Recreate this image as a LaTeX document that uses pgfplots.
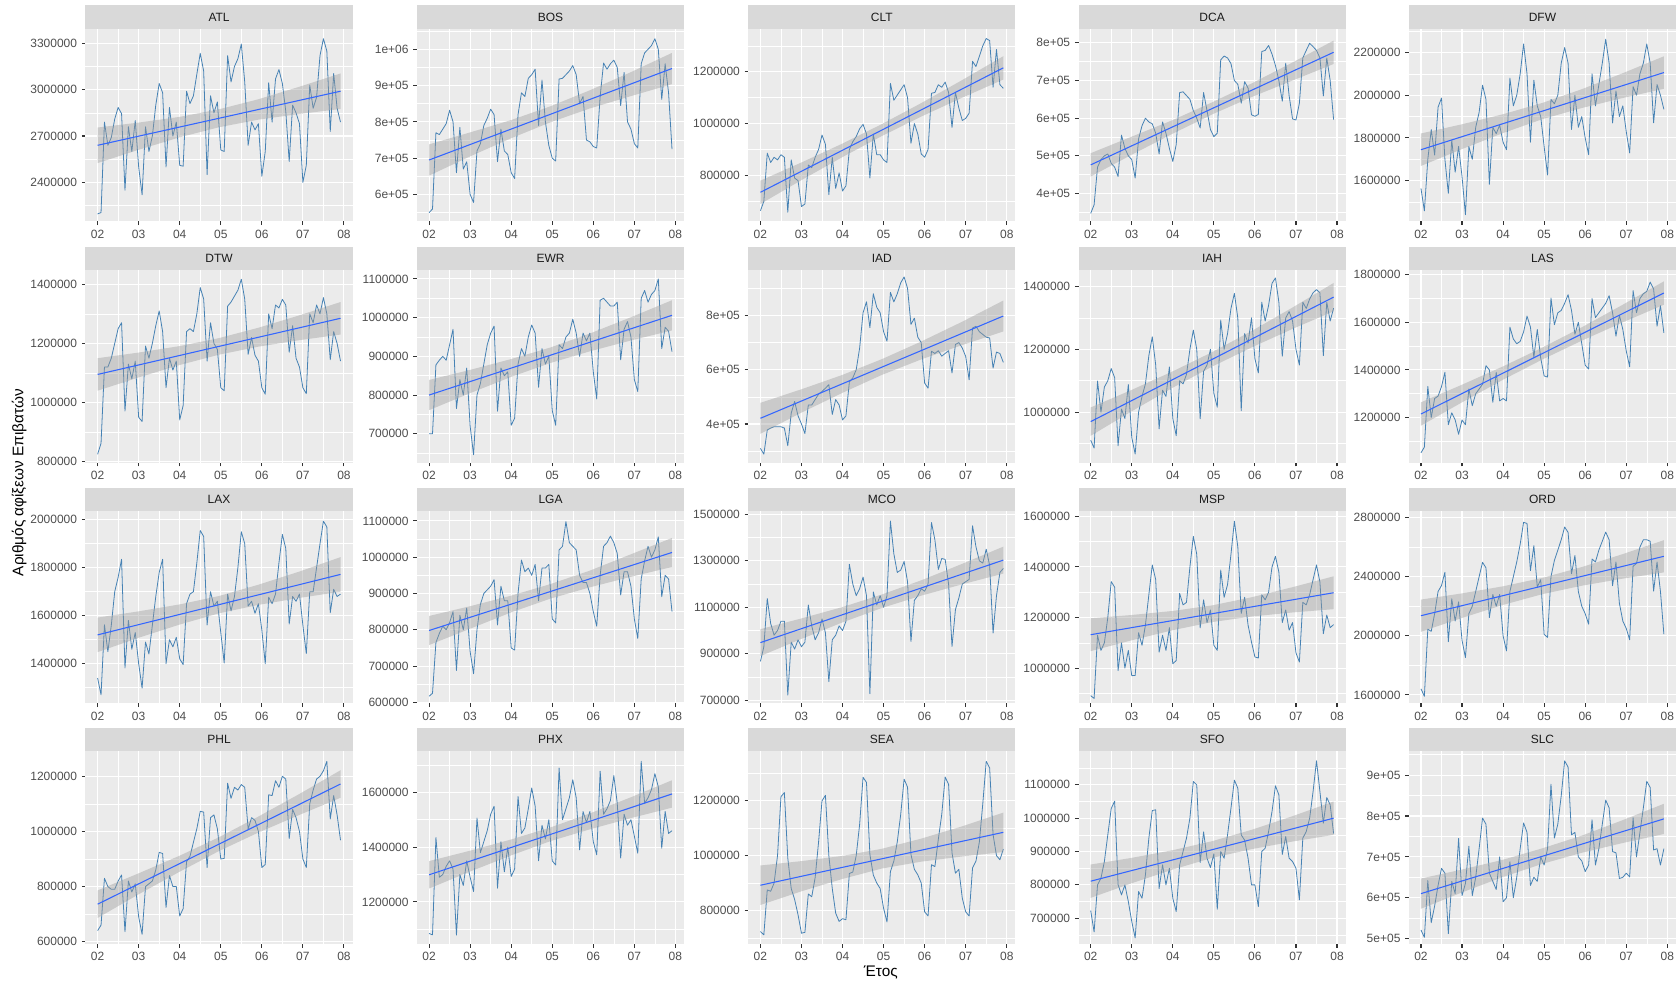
\documentclass[border=0pt]{standalone}
\usepackage{pgfplots}
\pgfplotsset{compat=1.18}
\usepackage{pgfplotstable}
\usepackage{fontspec}
\setmainfont{Liberation Sans}
\definecolor{panelbg}{HTML}{EBEBEB}
\definecolor{stripbg}{HTML}{D9D9D9}
\definecolor{stripc}{HTML}{1A1A1A}
\definecolor{ticklab}{HTML}{4D4D4D}
\definecolor{tickcol}{HTML}{333333}
\definecolor{serc}{HTML}{4682B4}
\definecolor{trendc}{HTML}{3366FF}
\definecolor{bandc}{HTML}{999999}

% monthly values, thousands of passengers, Jan 2002 ... Dec 2007
\pgfplotstableread[row sep=\\]{v\\
2196\\2205\\2790\\2640\\2690\\2810\\2885\\2845\\2350\\2760\\2600\\2800\\
2500\\2320\\2760\\2600\\2700\\2900\\3040\\2980\\2500\\2885\\2700\\2790\\
2510\\2505\\2990\\2910\\2960\\3100\\3235\\3120\\2450\\2960\\2850\\2920\\
2610\\2600\\3220\\3050\\3150\\3200\\3295\\3050\\2640\\2790\\2740\\2780\\
2440\\2600\\3045\\2790\\3070\\3130\\3040\\2860\\2535\\2900\\2850\\2780\\
2400\\2510\\3030\\2880\\2950\\3220\\3330\\3250\\2730\\3105\\2880\\2790\\
}\dATL
\pgfplotstableread[row sep=\\]{v\\
550\\560\\770\\765\\780\\795\\832\\800\\660\\785\\670\\690\\
600\\578\\720\\740\\790\\810\\835\\820\\690\\780\\720\\710\\
660\\644\\820\\880\\870\\920\\930\\945\\790\\915\\800\\735\\
700\\692\\918\\920\\930\\940\\955\\930\\850\\870\\750\\745\\
732\\728\\870\\962\\945\\960\\970\\950\\845\\936\\800\\780\\
740\\728\\960\\990\\1000\\1010\\1029\\1000\\862\\960\\880\\725\\
}\dBOS
\pgfplotstableread[row sep=\\]{v\\
664\\700\\886\\850\\870\\860\\880\\870\\658\\860\\790\\780\\
680\\690\\840\\830\\870\\900\\956\\920\\726\\870\\750\\810\\
740\\760\\900\\930\\950\\980\\997\\960\\790\\960\\880\\880\\
860\\850\\1155\\1090\\1110\\1130\\1150\\1100\\924\\1000\\960\\883\\
870\\900\\1117\\1120\\1150\\1140\\1160\\1120\\985\\1120\\1060\\1012\\
1020\\1040\\1240\\1220\\1260\\1300\\1328\\1320\\1140\\1286\\1150\\1136\\
}\dCLT
\pgfplotstableread[row sep=\\]{v\\
347\\370\\470\\490\\500\\505\\480\\470\\445\\555\\520\\500\\
490\\441\\545\\580\\600\\590\\585\\560\\505\\590\\560\\520\\
485\\530\\668\\670\\660\\650\\620\\600\\574\\668\\620\\570\\
551\\560\\755\\765\\760\\745\\700\\690\\640\\697\\680\\609\\
605\\610\\777\\780\\793\\770\\740\\700\\645\\746\\660\\598\\
595\\640\\760\\780\\799\\790\\780\\760\\659\\760\\700\\596\\
}\dDCA
\pgfplotstableread[row sep=\\]{v\\
1564\\1459\\1700\\1839\\1720\\1944\\1987\\1700\\1541\\1790\\1640\\1760\\
1620\\1441\\1760\\1700\\1850\\1920\\2047\\1980\\1583\\1850\\1820\\1860\\
1780\\1745\\2080\\1950\\2000\\2100\\2240\\2100\\1780\\2070\\1950\\1900\\
1760\\1627\\1980\\1960\\2000\\2150\\2223\\2150\\1840\\2000\\1850\\1900\\
1800\\1722\\2100\\1950\\2050\\2150\\2262\\2150\\1870\\2020\\1900\\1950\\
1830\\1730\\2040\\2000\\2100\\2150\\2240\\2150\\1871\\2050\\2000\\1934\\
}\dDFW
\pgfplotstableread[row sep=\\]{v\\
825\\862\\1120\\1120\\1150\\1200\\1250\\1270\\971\\1130\\1080\\1140\\
950\\936\\1191\\1150\\1200\\1260\\1310\\1240\\1050\\1150\\1110\\1140\\
941\\990\\1240\\1250\\1240\\1300\\1389\\1350\\1140\\1270\\1200\\1180\\
1050\\1040\\1326\\1340\\1360\\1380\\1417\\1350\\1163\\1220\\1160\\1140\\
1050\\1028\\1300\\1250\\1330\\1320\\1349\\1330\\1170\\1260\\1150\\1120\\
1050\\1030\\1300\\1270\\1330\\1300\\1355\\1300\\1145\\1240\\1200\\1140\\
}\dDTW
\pgfplotstableread[row sep=\\]{v\\
700\\700\\878\\890\\900\\890\\930\\970\\765\\840\\800\\870\\
720\\646\\800\\830\\880\\930\\960\\978\\758\\870\\850\\860\\
722\\740\\880\\920\\900\\950\\981\\960\\820\\920\\880\\900\\
760\\722\\930\\920\\950\\960\\996\\960\\900\\960\\940\\960\\
860\\790\\1045\\1050\\1040\\1030\\1030\\1040\\891\\970\\990\\950\\
840\\809\\1050\\1070\\1040\\1060\\1070\\1100\\920\\975\\965\\912\\
}\dEWR
\pgfplotstableread[row sep=\\]{v\\
310\\289\\378\\385\\390\\390\\390\\385\\320\\440\\483\\430\\
400\\365\\470\\470\\490\\510\\520\\532\\545\\435\\490\\470\\
415\\430\\555\\570\\600\\680\\810\\850\\755\\880\\830\\810\\
740\\705\\885\\850\\880\\920\\942\\900\\767\\790\\720\\700\\
551\\532\\668\\660\\670\\650\\660\\670\\588\\693\\700\\680\\
649\\563\\754\\760\\740\\730\\720\\717\\606\\665\\660\\627\\
}\dIAD
\pgfplotstableread[row sep=\\]{v\\
911\\886\\1099\\1000\\1080\\1100\\1139\\1110\\893\\1010\\980\\1088\\
920\\867\\1000\\1050\\1090\\1180\\1240\\1150\\947\\1070\\1050\\1144\\
980\\925\\1100\\1090\\1120\\1200\\1261\\1200\\979\\1130\\1150\\1200\\
1060\\1016\\1293\\1200\\1250\\1330\\1378\\1300\\1005\\1250\\1220\\1300\\
1170\\1125\\1350\\1290\\1340\\1410\\1427\\1350\\1178\\1300\\1320\\1290\\
1200\\1150\\1350\\1330\\1360\\1380\\1390\\1380\\1180\\1350\\1290\\1331\\
}\dIAH
\pgfplotstableread[row sep=\\]{v\\
1052\\1076\\1331\\1200\\1280\\1290\\1330\\1390\\1170\\1220\\1190\\1130\\
1190\\1170\\1320\\1250\\1300\\1320\\1340\\1418\\1400\\1264\\1390\\1270\\
1280\\1270\\1580\\1530\\1510\\1520\\1560\\1626\\1580\\1453\\1570\\1450\\
1375\\1370\\1702\\1590\\1640\\1650\\1680\\1716\\1650\\1550\\1600\\1510\\
1420\\1404\\1700\\1620\\1640\\1660\\1680\\1712\\1640\\1542\\1630\\1570\\
1480\\1413\\1733\\1640\\1700\\1720\\1730\\1769\\1740\\1584\\1670\\1556\\
}\dLAS
\pgfplotstableread[row sep=\\]{v\\
1340\\1270\\1562\\1450\\1560\\1700\\1760\\1835\\1382\\1580\\1460\\1530\\
1400\\1298\\1490\\1440\\1560\\1680\\1780\\1835\\1400\\1500\\1470\\1510\\
1420\\1396\\1650\\1690\\1700\\1820\\1955\\1930\\1561\\1700\\1640\\1660\\
1530\\1403\\1690\\1620\\1680\\1800\\1950\\1900\\1640\\1660\\1610\\1650\\
1540\\1400\\1677\\1650\\1690\\1820\\1939\\1880\\1565\\1680\\1660\\1690\\
1560\\1442\\1700\\1700\\1800\\1900\\1994\\1970\\1612\\1710\\1680\\1690\\
}\dLAX
\pgfplotstableread[row sep=\\]{v\\
617\\625\\765\\790\\810\\800\\820\\850\\688\\840\\800\\860\\
740\\679\\800\\870\\900\\910\\920\\938\\813\\920\\880\\880\\
750\\744\\900\\992\\960\\970\\950\\980\\880\\970\\970\\980\\
830\\819\\1020\\1030\\1098\\1040\\1030\\1020\\950\\930\\930\\900\\
850\\810\\950\\1030\\1040\\1058\\1040\\1010\\896\\960\\960\\920\\
830\\776\\940\\990\\1030\\1000\\1020\\1056\\891\\950\\940\\850\\
}\dLGA
\pgfplotstableread[row sep=\\]{v\\
867\\930\\1138\\1030\\980\\1000\\1040\\1040\\722\\950\\920\\960\\
930\\950\\1110\\1020\\960\\990\\1050\\990\\780\\960\\980\\1020\\
1000\\1040\\1285\\1200\\1150\\1180\\1230\\1150\\728\\1166\\1110\\1150\\
1100\\1150\\1471\\1330\\1250\\1260\\1297\\1210\\953\\1130\\1150\\1180\\
1169\\1200\\1465\\1390\\1263\\1310\\1306\\1200\\931\\1090\\1140\\1200\\
1210\\1220\\1451\\1360\\1300\\1290\\1350\\1280\\989\\1150\\1250\\1267\\
}\dMCO
\pgfplotstableread[row sep=\\]{v\\
891\\880\\1130\\1070\\1100\\1200\\1342\\1320\\990\\1100\\1000\\1070\\
970\\971\\1140\\1090\\1170\\1290\\1408\\1350\\1063\\1130\\1070\\1160\\
1017\\1030\\1295\\1250\\1260\\1400\\1521\\1450\\1159\\1270\\1180\\1230\\
1090\\1070\\1388\\1280\\1330\\1450\\1581\\1480\\1216\\1280\\1170\\1103\\
1044\\1040\\1290\\1270\\1300\\1400\\1442\\1380\\1180\\1230\\1150\\1180\\
1060\\1024\\1260\\1250\\1290\\1350\\1408\\1340\\1136\\1210\\1160\\1172\\
}\dMSP
\pgfplotstableread[row sep=\\]{v\\
1641\\1591\\2045\\2030\\2150\\2300\\2340\\2430\\1960\\2250\\2100\\2230\\
1970\\1853\\2150\\2200\\2300\\2400\\2497\\2460\\2124\\2280\\2200\\2280\\
2000\\1898\\2300\\2400\\2500\\2620\\2768\\2760\\2441\\2610\\2330\\2380\\
2010\\1989\\2400\\2510\\2580\\2650\\2736\\2700\\2420\\2543\\2300\\2200\\
2150\\2079\\2520\\2500\\2580\\2640\\2702\\2650\\2339\\2500\\2220\\2100\\
2050\\1973\\2470\\2490\\2600\\2650\\2650\\2640\\2302\\2500\\2300\\2011\\
}\dORD
\pgfplotstableread[row sep=\\]{v\\
640\\660\\830\\800\\790\\790\\820\\842\\636\\820\\780\\810\\
690\\627\\800\\810\\820\\860\\924\\920\\724\\840\\800\\800\\
693\\720\\890\\910\\960\\1010\\1073\\1070\\869\\1050\\1060\\1010\\
900\\902\\1175\\1120\\1160\\1150\\1170\\1160\\1008\\1050\\1040\\1000\\
869\\880\\1133\\1130\\1184\\1160\\1200\\1190\\974\\1080\\1050\\1000\\
900\\869\\1100\\1150\\1190\\1200\\1220\\1254\\1045\\1130\\1060\\968\\
}\dPHL
\pgfplotstableread[row sep=\\]{v\\
1085\\1080\\1435\\1290\\1300\\1330\\1350\\1320\\1079\\1300\\1260\\1350\\
1290\\1238\\1506\\1380\\1420\\1460\\1520\\1549\\1250\\1420\\1310\\1400\\
1293\\1320\\1585\\1450\\1470\\1540\\1616\\1550\\1350\\1480\\1430\\1500\\
1350\\1335\\1689\\1500\\1540\\1580\\1646\\1580\\1390\\1530\\1490\\1530\\
1420\\1372\\1677\\1520\\1540\\1570\\1661\\1560\\1360\\1520\\1480\\1500\\
1440\\1378\\1713\\1560\\1580\\1610\\1668\\1620\\1396\\1530\\1450\\1460\\
}\dPHX
\pgfplotstableread[row sep=\\]{v\\
723\\711\\875\\870\\900\\1000\\1215\\1230\\991\\880\\840\\784\\
717\\720\\860\\850\\920\\1050\\1200\\1220\\1000\\880\\790\\760\\
770\\766\\935\\940\\1000\\1114\\1286\\1267\\1004\\929\\900\\880\\
808\\758\\942\\980\\1050\\1150\\1279\\1250\\1004\\950\\930\\900\\
795\\780\\967\\960\\1060\\1150\\1287\\1260\\1010\\936\\950\\845\\
795\\780\\955\\980\\1050\\1190\\1344\\1320\\1077\\1000\\985\\1024\\
}\dSEA
\pgfplotstableread[row sep=\\]{v\\
723\\659\\800\\820\\870\\950\\1029\\1051\\801\\770\\800\\750\\
690\\641\\780\\760\\830\\940\\1023\\1025\\789\\860\\800\\850\\
760\\720\\860\\900\\940\\1000\\1110\\1100\\867\\959\\880\\852\\
893\\727\\900\\880\\950\\1030\\1114\\1090\\950\\934\\880\\800\\
800\\735\\900\\910\\960\\1020\\1097\\1070\\891\\945\\880\\870\\
850\\755\\940\\960\\1000\\1080\\1172\\1080\\985\\1062\\1040\\954\\
}\dSFO
\pgfplotstableread[row sep=\\]{v\\
521\\503\\642\\539\\580\\630\\672\\660\\512\\640\\610\\745\\
605\\635\\726\\605\\650\\720\\795\\780\\660\\640\\620\\700\\
590\\600\\688\\600\\650\\720\\783\\760\\630\\650\\640\\700\\
680\\720\\878\\746\\780\\850\\935\\920\\754\\760\\700\\690\\
664\\680\\791\\680\\720\\780\\839\\820\\713\\710\\647\\650\\
660\\651\\796\\700\\760\\820\\885\\870\\717\\720\\680\\720\\
}\dSLC

\pgfplotsset{
  fac/.style={
    anchor=north west, scale only axis, width=200.4pt, height=144.3pt,
    xmin=-3.55, xmax=74.55,
    xtick={0,12,...,72}, xticklabels={02,03,04,05,06,07,08},
    minor xtick={6,18,...,66},
    axis background/.style={fill=panelbg},
    axis line style={draw=none},
    grid=both,
    major grid style={white, line width=0.8pt},
    minor grid style={white, line width=0.4pt},
    tick align=outside, tick pos=left,
    major tick length=2.75pt, minor tick length=0pt,
    tick style={tickcol, line width=0.8pt},
    ticklabel style={font=\fontsize{9}{10.5}\selectfont, text=ticklab},
    /pgf/number format/assume math mode=true,
    every axis title/.style={at={(0.5,1)}, anchor=south, fill=stripbg,
      minimum width=200.4pt, minimum height=17.6pt, inner sep=0pt, outer sep=0pt,
      font=\fontsize{9}{10.5}\selectfont, text=stripc},
    no markers,
  },
  ser/.style={serc, line width=0.6pt, line join=round},
  bnd/.style={fill=bandc, fill opacity=0.4, draw=none},
  trd/.style={trendc, line width=0.8pt},
}

\begin{document}
\begin{tikzpicture}
\path[use as bounding box] (0,0) rectangle (1257pt,-736.5pt);

% ---------------- row 1 ----------------
\begin{axis}[fac, at={(64.1pt,-21.7pt)}, title={ATL},
  ymin=2148, ymax=3393, ytick={2400,2700,3000,3300},
  yticklabels={2400000,2700000,3000000,3300000}, minor ytick={2250,2550,2850,3150}]
\addplot[ser] table[x expr=\coordindex, y=v] {\dATL};
\addplot[bnd] coordinates {(0,2755) (12,2787) (24,2824) (35.5,2873) (47,2938) (59,3019) (71,3105) (71,2875) (59,2843) (47,2806) (35.5,2757) (24,2692) (12,2611) (0,2525)};
\addplot[trd] coordinates {(0,2640) (71,2990)};
\end{axis}

\begin{axis}[fac, at={(312.7pt,-21.7pt)}, title={BOS},
  ymin=526, ymax=1056, ytick={600,700,800,900,1000},
  yticklabels={6e+05,7e+05,8e+05,9e+05,1e+06}, minor ytick={550,650,750,850,950,1050}]
\addplot[ser] table[x expr=\coordindex, y=v] {\dBOS};
\addplot[bnd] coordinates {(0,738) (12,771) (24,805) (35.5,843) (47,887) (59,937) (71,990) (71,904) (59,871) (47,837) (35.5,799) (24,755) (12,705) (0,652)};
\addplot[trd] coordinates {(0,695) (71,947)};
\end{axis}

\begin{axis}[fac, at={(561.2pt,-21.7pt)}, title={CLT},
  ymin=623, ymax=1365, ytick={800,1000,1200},
  yticklabels={800000,1000000,1200000}, minor ytick={700,900,1100,1300}]
\addplot[ser] table[x expr=\coordindex, y=v] {\dCLT};
\addplot[bnd] coordinates {(0,780) (12,850) (24,923) (35.5,998) (47,1079) (59,1168) (71,1260) (71,1170) (59,1100) (47,1027) (35.5,952) (24,871) (12,782) (0,690)};
\addplot[trd] coordinates {(0,735) (71,1215)};
\end{axis}

\begin{axis}[fac, at={(808.9pt,-21.7pt)}, title={DCA},
  ymin=326, ymax=837, ytick={400,500,600,700,800},
  yticklabels={4e+05,5e+05,6e+05,7e+05,8e+05}, minor ytick={350,450,550,650,750}]
\addplot[ser] table[x expr=\coordindex, y=v] {\dDCA};
\addplot[bnd] coordinates {(0,507) (12,551) (24,595) (35.5,642) (47,692) (59,748) (71,806) (71,744) (59,700) (47,656) (35.5,610) (24,559) (12,503) (0,445)};
\addplot[trd] coordinates {(0,476) (71,775)};
\end{axis}

\begin{axis}[fac, at={(1056.6pt,-21.7pt)}, title={DFW},
  ymin=1410, ymax=2310, ytick={1600,1800,2000,2200},
  yticklabels={1600000,1800000,2000000,2200000}, minor ytick={1500,1700,1900,2100,2300}]
\addplot[ser] table[x expr=\coordindex, y=v] {\dDFW};
\addplot[bnd] coordinates {(0,1821) (12,1864) (24,1911) (35.5,1964) (47,2028) (59,2103) (71,2182) (71,2030) (59,1987) (47,1940) (35.5,1888) (24,1823) (12,1748) (0,1669)};
\addplot[trd] coordinates {(0,1745) (71,2106)};
\end{axis}

% ---------------- row 2 ----------------
\begin{axis}[fac, at={(64.1pt,-202.8pt)}, title={DTW},
  ymin=796, ymax=1447, ytick={800,1000,1200,1400},
  yticklabels={800000,1000000,1200000,1400000}, minor ytick={900,1100,1300}]
\addplot[ser] table[x expr=\coordindex, y=v] {\dDTW};
\addplot[bnd] coordinates {(0,1150) (12,1169) (24,1191) (35.5,1218) (47,1253) (59,1295) (71,1340) (71,1230) (59,1211) (47,1189) (35.5,1162) (24,1127) (12,1085) (0,1040)};
\addplot[trd] coordinates {(0,1095) (71,1285)};
\end{axis}

\begin{axis}[fac, at={(312.7pt,-202.8pt)}, title={EWR},
  ymin=625, ymax=1122, ytick={700,800,900,1000,1100},
  yticklabels={700000,800000,900000,1000000,1100000}, minor ytick={650,750,850,950,1050}]
\addplot[ser] table[x expr=\coordindex, y=v] {\dEWR};
\addplot[bnd] coordinates {(0,839) (12,865) (24,893) (35.5,923) (47,959) (59,1001) (71,1045) (71,967) (59,941) (47,913) (35.5,883) (24,847) (12,805) (0,761)};
\addplot[trd] coordinates {(0,800) (71,1006)};
\end{axis}

\begin{axis}[fac, at={(561.2pt,-202.8pt)}, title={IAD},
  ymin=257, ymax=966, ytick={400,600,800},
  yticklabels={4e+05,6e+05,8e+05}, minor ytick={300,500,700,900}]
\addplot[ser] table[x expr=\coordindex, y=v] {\dIAD};
\addplot[bnd] coordinates {(0,478) (12,528) (24,581) (35.5,639) (47,704) (59,777) (71,855) (71,741) (59,691) (47,638) (35.5,581) (24,515) (12,442) (0,364)};
\addplot[trd] coordinates {(0,421) (71,798)};
\end{axis}

\begin{axis}[fac, at={(808.9pt,-202.8pt)}, title={IAH},
  ymin=839, ymax=1451, ytick={1000,1200,1400},
  yticklabels={1000000,1200000,1400000}, minor ytick={900,1100,1300}]
\addplot[ser] table[x expr=\coordindex, y=v] {\dIAH};
\addplot[bnd] coordinates {(0,1015) (12,1071) (24,1130) (35.5,1191) (47,1258) (59,1333) (71,1411) (71,1321) (59,1265) (47,1206) (35.5,1145) (24,1078) (12,1003) (0,925)};
\addplot[trd] coordinates {(0,970) (71,1366)};
\end{axis}

\begin{axis}[fac, at={(1056.6pt,-202.8pt)}, title={LAS},
  ymin=1010, ymax=1818, ytick={1200,1400,1600,1800},
  yticklabels={1200000,1400000,1600000,1800000}, minor ytick={1100,1300,1500,1700}]
\addplot[ser] table[x expr=\coordindex, y=v] {\dLAS};
\addplot[bnd] coordinates {(0,1264) (12,1338) (24,1415) (35.5,1494) (47,1579) (59,1674) (71,1772) (71,1674) (59,1600) (47,1523) (35.5,1444) (24,1359) (12,1264) (0,1166)};
\addplot[trd] coordinates {(0,1215) (71,1723)};
\end{axis}

% ---------------- row 3 ----------------
\begin{axis}[fac, at={(64.1pt,-383.3pt)}, title={LAX},
  ymin=1234, ymax=2036, ytick={1400,1600,1800,2000},
  yticklabels={1400000,1600000,1800000,2000000}, minor ytick={1300,1500,1700,1900}]
\addplot[ser] table[x expr=\coordindex, y=v] {\dLAX};
\addplot[bnd] coordinates {(0,1592) (12,1618) (24,1647) (35.5,1682) (47,1729) (59,1784) (71,1844) (71,1700) (59,1674) (47,1645) (35.5,1610) (24,1563) (12,1508) (0,1448)};
\addplot[trd] coordinates {(0,1520) (71,1772)};
\end{axis}

\begin{axis}[fac, at={(312.7pt,-383.3pt)}, title={LGA},
  ymin=597, ymax=1127, ytick={600,700,800,900,1000,1100},
  yticklabels={600000,700000,800000,900000,1000000,1100000}, minor ytick={650,750,850,950,1050}]
\addplot[ser] table[x expr=\coordindex, y=v] {\dLGA};
\addplot[bnd] coordinates {(0,838) (12,865) (24,894) (35.5,926) (47,963) (59,1008) (71,1053) (71,973) (59,946) (47,917) (35.5,886) (24,848) (12,803) (0,758)};
\addplot[trd] coordinates {(0,798) (71,1013)};
\end{axis}

\begin{axis}[fac, at={(561.2pt,-383.3pt)}, title={MCO},
  ymin=686, ymax=1514, ytick={700,900,1100,1300,1500},
  yticklabels={700000,900000,1100000,1300000,1500000}, minor ytick={800,1000,1200,1400}]
\addplot[ser] table[x expr=\coordindex, y=v] {\dMCO};
\addplot[bnd] coordinates {(0,1006) (12,1052) (24,1101) (35.5,1155) (47,1216) (59,1287) (71,1361) (71,1245) (59,1199) (47,1150) (35.5,1097) (24,1035) (12,964) (0,890)};
\addplot[trd] coordinates {(0,948) (71,1303)};
\end{axis}

\begin{axis}[fac, at={(808.9pt,-383.3pt)}, title={MSP},
  ymin=860, ymax=1621, ytick={1000,1200,1400,1600},
  yticklabels={1000000,1200000,1400000,1600000}, minor ytick={900,1100,1300,1500}]
\addplot[ser] table[x expr=\coordindex, y=v] {\dMSP};
\addplot[bnd] coordinates {(0,1197) (12,1210) (24,1226) (35.5,1248) (47,1280) (59,1320) (71,1363) (71,1233) (59,1220) (47,1204) (35.5,1182) (24,1150) (12,1110) (0,1067)};
\addplot[trd] coordinates {(0,1132) (71,1298)};
\end{axis}

\begin{axis}[fac, at={(1056.6pt,-383.3pt)}, title={ORD},
  ymin=1542, ymax=2844, ytick={1600,2000,2400,2800},
  yticklabels={1600000,2000000,2400000,2800000}, minor ytick={1800,2200,2600}]
\addplot[ser] table[x expr=\coordindex, y=v] {\dORD};
\addplot[bnd] coordinates {(0,2245) (12,2287) (24,2335) (35.5,2392) (47,2465) (59,2553) (71,2647) (71,2429) (59,2387) (47,2339) (35.5,2282) (24,2209) (12,2121) (0,2027)};
\addplot[trd] coordinates {(0,2136) (71,2538)};
\end{axis}

% ---------------- row 4 ----------------
\begin{axis}[fac, at={(64.1pt,-563.6pt)}, title={PHL},
  ymin=592, ymax=1290, ytick={600,800,1000,1200},
  yticklabels={600000,800000,1000000,1200000}, minor ytick={700,900,1100}]
\addplot[ser] table[x expr=\coordindex, y=v] {\dPHL};
\addplot[bnd] coordinates {(0,786) (12,848) (24,912) (35.5,979) (47,1054) (59,1136) (71,1222) (71,1122) (59,1060) (47,996) (35.5,929) (24,854) (12,772) (0,686)};
\addplot[trd] coordinates {(0,736) (71,1172)};
\end{axis}

\begin{axis}[fac, at={(312.7pt,-563.6pt)}, title={PHX},
  ymin=1047, ymax=1749, ytick={1200,1400,1600},
  yticklabels={1200000,1400000,1600000}, minor ytick={1100,1300,1500,1700}]
\addplot[ser] table[x expr=\coordindex, y=v] {\dPHX};
\addplot[bnd] coordinates {(0,1349) (12,1387) (24,1428) (35.5,1472) (47,1523) (59,1582) (71,1644) (71,1544) (59,1506) (47,1465) (35.5,1422) (24,1370) (12,1311) (0,1249)};
\addplot[trd] coordinates {(0,1299) (71,1594)};
\end{axis}

\begin{axis}[fac, at={(561.2pt,-563.6pt)}, title={SEA},
  ymin=678, ymax=1380, ytick={800,1000,1200},
  yticklabels={800000,1000000,1200000}, minor ytick={700,900,1100,1300}]
\addplot[ser] table[x expr=\coordindex, y=v] {\dSEA};
\addplot[bnd] coordinates {(0,964) (12,980) (24,999) (35.5,1025) (47,1062) (59,1107) (71,1157) (71,1013) (59,997) (47,978) (35.5,953) (24,915) (12,870) (0,820)};
\addplot[trd] coordinates {(0,892) (71,1085)};
\end{axis}

\begin{axis}[fac, at={(808.9pt,-563.6pt)}, title={SFO},
  ymin=623, ymax=1200, ytick={700,800,900,1000,1100},
  yticklabels={700000,800000,900000,1000000,1100000}, minor ytick={650,750,850,950,1050,1150}]
\addplot[ser] table[x expr=\coordindex, y=v] {\dSFO};
\addplot[bnd] coordinates {(0,861) (12,881) (24,904) (35.5,931) (47,965) (59,1006) (71,1050) (71,950) (59,930) (47,907) (35.5,881) (24,846) (12,805) (0,761)};
\addplot[trd] coordinates {(0,811) (71,1000)};
\end{axis}

\begin{axis}[fac, at={(1056.6pt,-563.6pt)}, title={SLC},
  ymin=487, ymax=958, ytick={500,600,700,800,900},
  yticklabels={5e+05,6e+05,7e+05,8e+05,9e+05}, minor ytick={550,650,750,850,950}]
\addplot[ser] table[x expr=\coordindex, y=v] {\dSLC};
\addplot[bnd] coordinates {(0,647) (12,669) (24,693) (35.5,721) (47,752) (59,790) (71,830) (71,756) (59,734) (47,710) (35.5,683) (24,651) (12,613) (0,573)};
\addplot[trd] coordinates {(0,610) (71,793)};
\end{axis}

\node[rotate=90, font=\fontsize{11.5}{13}\selectfont] at (14.3pt,-362pt) {Αριθμός αφίξεων Επιβατών};
\node[font=\fontsize{11.5}{13}\selectfont] at (660.6pt,-729.5pt) {Έτος};
\end{tikzpicture}
\end{document}
